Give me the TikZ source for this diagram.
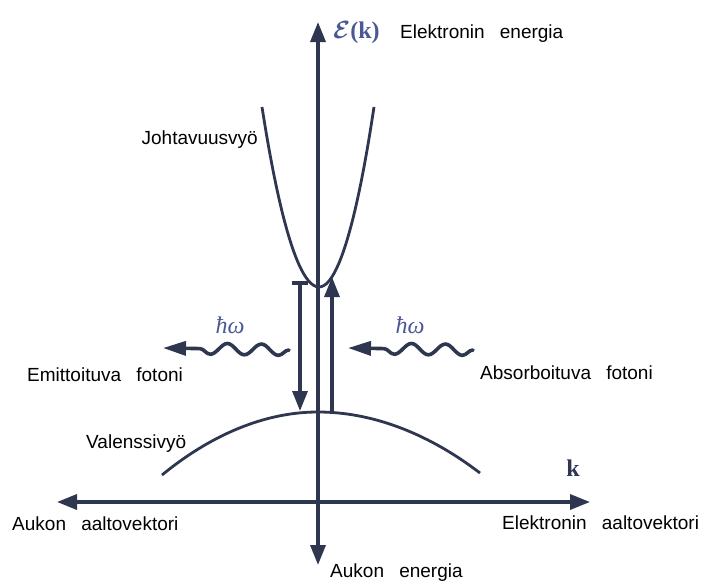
\documentclass[tikz,border=0pt]{standalone}
\usepackage{fontspec}
\setmainfont{Liberation Sans}
\newfontfamily\serifff{Liberation Serif}
\usetikzlibrary{arrows.meta,decorations.pathmorphing}
\definecolor{ink}{HTML}{2E3650}
\definecolor{blu}{HTML}{4A5894}
\begin{document}
\begin{tikzpicture}[x=1pt,y=-1pt,
  axis/.style={ink,line width=3.4pt},
  band/.style={ink,line width=2.8pt},
  trans/.style={ink,line width=3.2pt},
  tipA/.style={-{Triangle[length=20pt,width=15pt]}},
  tipP/.style={-{Triangle[length=23pt,width=14pt]}},
  tipB/.style={{Triangle[length=20pt,width=15pt]}-{Triangle[length=20pt,width=15pt]}},
  photon/.style={ink,line width=3.6pt,line cap=round,decorate,
    decoration={snake,amplitude=5.5pt,segment length=34pt,post length=22pt,pre length=0pt}},
  lbl/.style={font=\fontsize{19}{22}\selectfont,text=black,inner sep=0pt},
  sym/.style={font=\fontsize{24}{26}\selectfont,text=blu,inner sep=0pt},
  ]
\useasboundingbox (0,0) rectangle (712,581);

% axes
\coordinate (vbot) at (318,565);
\coordinate (vtop) at (318,22);
\coordinate (hleft) at (57,502);
\coordinate (hright) at (590,502);
\draw[axis,tipB] (vbot) -- (vtop);
\draw[axis,tipB] (hleft) -- (hright);

% bands
\coordinate (cbL) at (262,107);
\coordinate (cbMin) at (319,287);
\coordinate (cbR) at (374,107);
\draw[band] (cbL) parabola bend (cbMin) (cbR);
\coordinate (vbL) at (162,475);
\coordinate (vbMax) at (318,412);
\coordinate (vbR) at (480,473);
\draw[band] (vbL) parabola bend (vbMax) (vbR);

% transitions
\coordinate (emTop) at (300,283);
\coordinate (emTickL) at (292,283);
\coordinate (emTickR) at (308,283);
\coordinate (emBot) at (300,411);
\draw[trans] (emTickL) -- (emTickR);
\draw[trans,tipA] (emTop) -- (emBot);
\coordinate (abBot) at (332,413);
\coordinate (abTop) at (332,277);
\draw[trans,tipA] (abBot) -- (abTop);

% photons
\coordinate (phLs) at (289,350);
\coordinate (phLe) at (163,348);
\draw[photon,tipP] (phLs) -- (phLe);
\coordinate (phRs) at (473,350);
\coordinate (phRe) at (348,348);
\draw[photon,tipP] (phRs) -- (phRe);

% labels
\node[sym,anchor=base west] (Ek) at (333,38) {{\boldmath$\mathcal{E}$}{\serifff\bfseries(k)}};
\node[lbl,anchor=base west] (Een) at (400,38) {Elektronin\hspace{0.8em}energia};
\node[lbl,anchor=base east] (joht) at (258,144) {Johtavuusvyö};
\node[sym,anchor=center] (hw1) at (230,325) {\serifff\itshape ħω};
\node[sym,anchor=center] (hw2) at (410,325) {\serifff\itshape ħω};
\node[lbl,anchor=base west] (emit) at (27,381) {Emittoituva\hspace{0.8em}fotoni};
\node[lbl,anchor=base west] (abso) at (480,379) {Absorboituva\hspace{0.8em}fotoni};
\node[lbl,anchor=base west] (val) at (86,448) {Valenssivyö};
\node[sym,anchor=base,text=ink] (k) at (573,476) {\serifff\bfseries k};
\node[lbl,anchor=base west] (aav) at (12,530) {Aukon\hspace{0.8em}aaltovektori};
\node[lbl,anchor=base west] (eav) at (502,529) {Elektronin\hspace{0.8em}aaltovektori};
\node[lbl,anchor=base west] (aen) at (330,577) {Aukon\hspace{0.8em}energia};
\end{tikzpicture}
\end{document}
